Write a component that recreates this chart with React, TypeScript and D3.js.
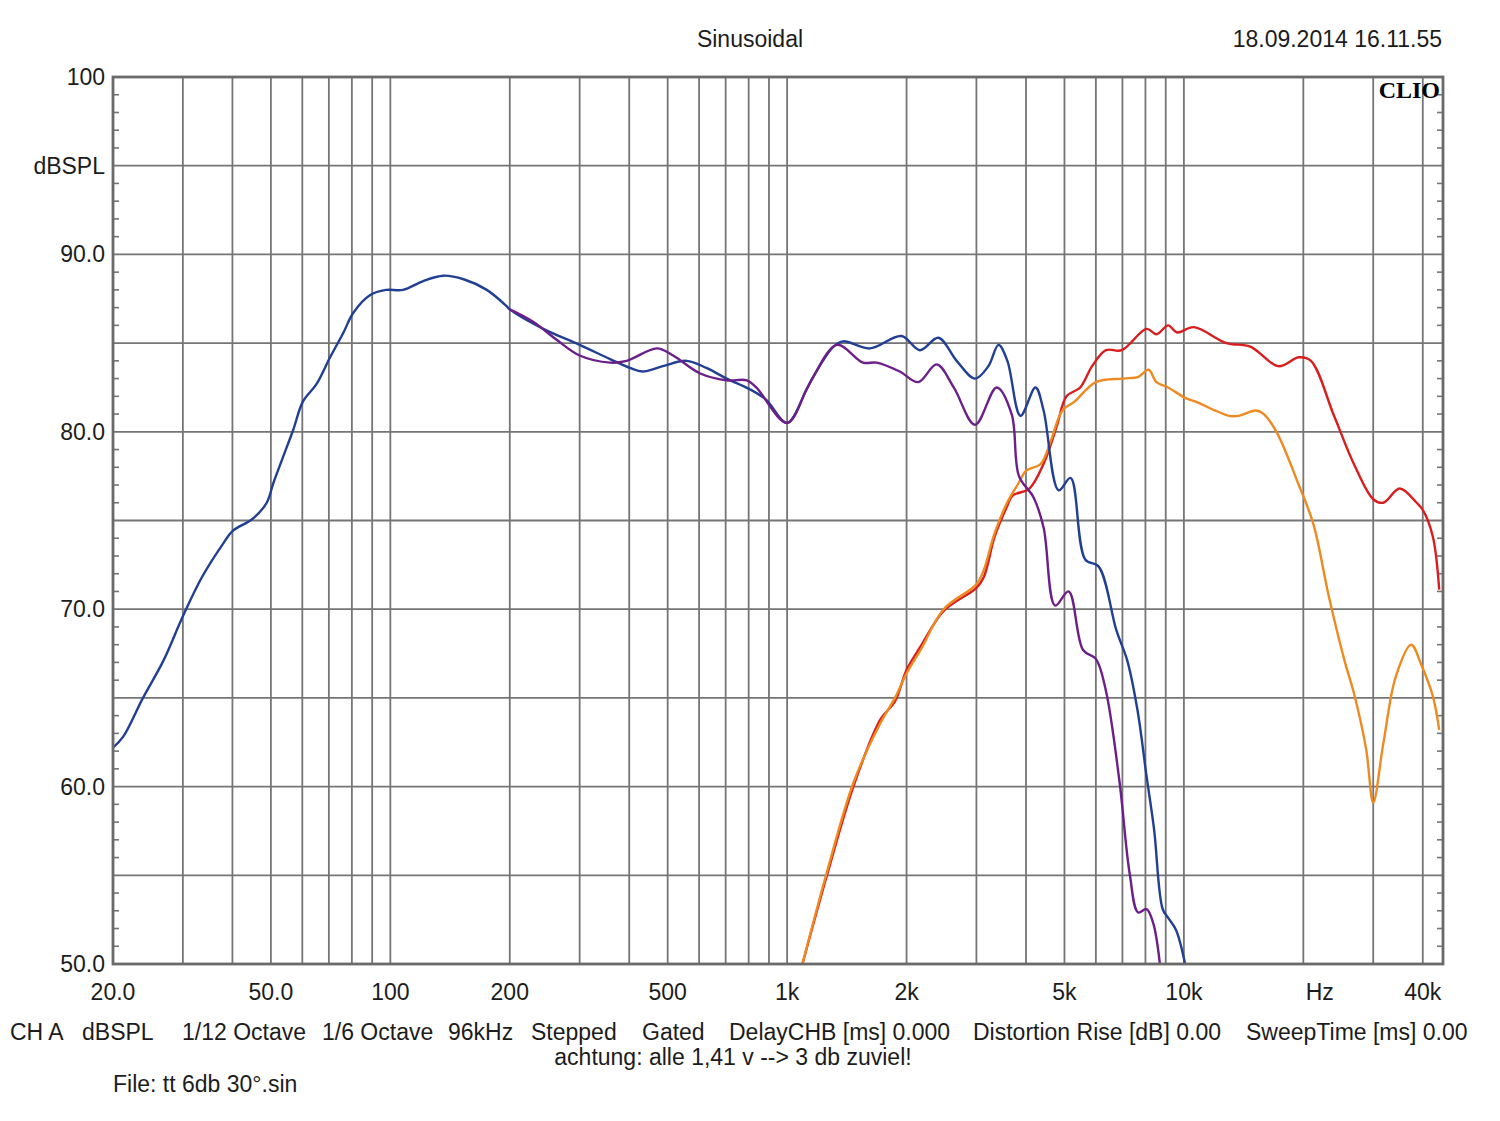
import React from "react";
import * as d3 from "d3";

const W = 1500;
const H = 1121;
const M = { left: 113, top: 77, right: 1443, bottom: 964 };

const FREQ_MIN = 20;
const FREQ_MAX = 44980;
const DB_MIN = 50;
const DB_MAX = 100;

const title = "Sinusoidal";
const dateText = "18.09.2014 16.11.55";
const brand = "CLIO";

const yTickLabels: [number, string][] = [
  [100, "100"],
  [95, "dBSPL"],
  [90, "90.0"],
  [80, "80.0"],
  [70, "70.0"],
  [60, "60.0"],
  [50, "50.0"],
];

const xTickLabels: [number, string][] = [
  [20, "20.0"],
  [50, "50.0"],
  [100, "100"],
  [200, "200"],
  [500, "500"],
  [1000, "1k"],
  [2000, "2k"],
  [5000, "5k"],
  [10000, "10k"],
  [22000, "Hz"],
  [40000, "40k"],
];

const xGridFreqs = [
  20, 30, 40, 50, 60, 70, 80, 90, 100, 200, 300, 400, 500, 600, 700, 800, 900,
  1000, 2000, 3000, 4000, 5000, 6000, 7000, 8000, 9000, 10000, 20000, 30000, 40000,
];

const infoRow: [number, string][] = [
  [10, "CH A"],
  [82, "dBSPL"],
  [182, "1/12 Octave"],
  [322, "1/6 Octave"],
  [448, "96kHz"],
  [531, "Stepped"],
  [642, "Gated"],
  [729, "DelayCHB [ms] 0.000"],
  [973, "Distortion Rise [dB] 0.00"],
  [1246, "SweepTime [ms] 0.00"],
];
const noteText = "achtung: alle 1,41 v --> 3 db zuviel!";
const fileText = "File: tt 6db 30°.sin";

// Blue (woofer, full)
const blueFreq = [
  20, 21.2, 23.8, 26.8, 30, 33.5, 37.9, 40, 45, 48.8, 50.7, 53.7, 56.9, 60.2, 65.2,
  70.5, 76.2, 80.6, 88.8, 97.5, 107.6, 121, 136, 153, 175, 196, 200, 243, 300, 358,
  402, 432, 486, 558, 626, 704, 805, 886, 1000, 1120, 1164, 1308, 1384, 1616, 1942,
  2160, 2406, 2675, 2976, 3216, 3410, 3590, 3874, 4226, 4430, 4836, 5180, 5640,
  6100, 6760, 7200, 7640, 8050, 8410, 8840, 9130, 9560, 10070,
];
const blueDb = [
  62.2, 62.8, 65.0, 67.1, 69.6, 71.8, 73.7, 74.4, 75.1, 76.0, 77.1, 78.6, 80.1, 81.7,
  82.7, 84.2, 85.6, 86.7, 87.7, 88.0, 88.0, 88.5, 88.8, 88.6, 88.0, 87.1, 86.9, 85.8,
  84.9, 84.1, 83.6, 83.4, 83.7, 84.0, 83.6, 83.0, 82.4, 81.8, 80.5, 82.4, 83.1, 84.8,
  85.1, 84.7, 85.4, 84.6, 85.3, 84.0, 83.0, 83.7, 84.9, 84.0, 80.9, 82.5, 81.2, 76.7,
  77.4, 72.8, 72.4, 68.8, 67.1, 64.3, 60.6, 57.6, 53.1, 52.6, 51.9, 50.0,
];

// Purple (woofer, second)
const purpleFreq = [
  200, 229, 262, 300, 358, 394, 470, 516, 602, 704, 792, 836, 1000, 1120, 1164, 1336,
  1554, 1680, 1922, 2140, 2382, 2630, 2976, 3375, 3680, 3840, 4180, 4430, 4738, 5120,
  5570, 6000, 6360, 6880, 7300, 7670, 8050, 8370, 8700,
];
const purpleDb = [
  86.9, 86.2, 85.2, 84.3, 83.9, 84.0, 84.7, 84.3, 83.3, 82.9, 82.9, 82.5, 80.5, 82.4,
  83.1, 84.9, 83.9, 83.9, 83.4, 82.8, 83.8, 82.5, 80.4, 82.5, 81.0, 77.5, 76.3, 74.6,
  70.2, 71.0, 67.7, 67.2, 65.4, 60.3, 55.1, 52.9, 53.1, 52.3, 50.0,
];

// Red (tweeter)
const redFreq = [
  1093, 1264, 1474, 1720, 1870, 2002, 2170, 2480, 3000, 3130, 3336, 3585, 3700, 4080,
  4430, 4780, 5060, 5480, 5870, 6360, 6970, 8050, 8530, 9130, 9610, 10600, 12800,
  14700, 17300, 19500, 20900, 23900, 26800, 30000, 31800, 35000, 38600, 40000, 42400,
  44000,
];
const redDb = [
  50.0, 55.1, 60.1, 63.8, 64.8, 66.6, 67.9, 69.9, 71.2, 71.8, 74.1, 75.8, 76.4, 76.8,
  78.2, 80.3, 82.0, 82.5, 83.7, 84.6, 84.6, 85.8, 85.5, 86.0, 85.6, 85.9, 85.0, 84.8,
  83.7, 84.2, 84.0, 80.9, 78.2, 76.2, 76.0, 76.8, 76.0, 75.6, 74.1, 71.1,
];

// Orange (tweeter, second)
const orangeFreq = [
  1093, 1264, 1474, 1720, 1870, 2002, 2170, 2480, 3000, 3130, 3336, 3585, 3830, 4000,
  4360, 4620, 4940, 5300, 6000, 7030, 7680, 8150, 8530, 9120, 10100, 10700, 13000,
  13700, 15200, 15900, 17200, 19400, 21200, 23200, 25400, 26800, 28800, 30000, 31800,
  34200, 37400, 39600, 42400, 44000,
];
const orangeDb = [
  50.0, 55.3, 60.3, 63.6, 65.0, 66.4, 67.7, 70.0, 71.4, 72.2, 74.3, 76.0, 77.1, 77.8,
  78.2, 79.5, 81.2, 81.7, 82.8, 83.0, 83.1, 83.5, 82.8, 82.5, 81.9, 81.7, 80.9, 80.9,
  81.2, 81.0, 79.9, 77.1, 74.8, 70.7, 67.1, 65.3, 62.1, 59.1, 62.4, 66.2, 68.0, 66.9,
  65.1, 63.2,
];

const series = [
  { name: "red", freq: redFreq, db: redDb, color: "#d81e1e" },
  { name: "orange", freq: orangeFreq, db: orangeDb, color: "#ee8a22" },
  { name: "blue", freq: blueFreq, db: blueDb, color: "#213f93" },
  { name: "purple", freq: purpleFreq, db: purpleDb, color: "#6c1f8a" },
];

const FONT = "'Liberation Sans', Arial, sans-serif";
const FS = 23;
const TEXT = "#1c1c1c";
const GRID = "#757575";

export default function App() {
  const x = d3.scaleLog().domain([FREQ_MIN, FREQ_MAX]).range([M.left, M.right]);
  const y = d3.scaleLinear().domain([DB_MIN, DB_MAX]).range([M.bottom, M.top]);

  const line = d3
    .line<[number, number]>()
    .x((d) => x(d[0]))
    .y((d) => y(d[1]))
    .curve(d3.curveCatmullRom.alpha(0.5));

  const hGrid = d3.range(DB_MIN + 5, DB_MAX, 5);
  const minor = d3.range(DB_MIN + 1, DB_MAX, 1).filter((v) => v % 5 !== 0);

  return (
    <svg
      width={W}
      height={H}
      style={{ position: "absolute", left: 0, top: 0, display: "block", background: "#fff" }}
    >
      <defs>
        <clipPath id="plotClip">
          <rect x={M.left} y={M.top} width={M.right - M.left} height={M.bottom - M.top} />
        </clipPath>
      </defs>
      <rect x={0} y={0} width={W} height={H} fill="#fff" />

      {/* grid */}
      {xGridFreqs.map((f) => (
        <line key={"vx" + f} x1={x(f)} x2={x(f)} y1={M.top} y2={M.bottom} stroke={GRID} strokeWidth={1.8} />
      ))}
      {hGrid.map((v) => (
        <line key={"hy" + v} x1={M.left} x2={M.right} y1={y(v)} y2={y(v)} stroke={GRID} strokeWidth={1.8} />
      ))}
      {minor.map((v) => (
        <g key={"mt" + v}>
          <line x1={M.left} x2={M.left + 6} y1={y(v)} y2={y(v)} stroke={GRID} strokeWidth={1.6} />
          <line x1={M.right - 6} x2={M.right} y1={y(v)} y2={y(v)} stroke={GRID} strokeWidth={1.6} />
        </g>
      ))}

      {/* curves */}
      <g clipPath="url(#plotClip)">
        {series.map((s) => (
          <path
            key={s.name}
            d={line(s.freq.map((f, i) => [f, s.db[i]] as [number, number])) || ""}
            fill="none"
            stroke={s.color}
            strokeWidth={2.4}
            strokeLinejoin="round"
          />
        ))}
      </g>

      {/* frame */}
      <rect
        x={M.left}
        y={M.top}
        width={M.right - M.left}
        height={M.bottom - M.top}
        fill="none"
        stroke="#6a6a6a"
        strokeWidth={2.8}
      />

      {/* header */}
      <text x={750} y={47} textAnchor="middle" fontFamily={FONT} fontSize={FS} fill={TEXT}>
        {title}
      </text>
      <text x={1442} y={47} textAnchor="end" fontFamily={FONT} fontSize={FS} fill={TEXT}>
        {dateText}
      </text>
      <text
        x={1440}
        y={98}
        textAnchor="end"
        fontFamily="'Liberation Serif', 'DejaVu Serif', serif"
        fontWeight="bold"
        fontSize={24}
        fill="#000"
      >
        {brand}
      </text>

      {/* y labels */}
      {yTickLabels.map(([v, t]) => (
        <text
          key={"yl" + v}
          x={105}
          y={y(v) + 8}
          textAnchor="end"
          fontFamily={FONT}
          fontSize={FS}
          fill={TEXT}
        >
          {t}
        </text>
      ))}

      {/* x labels */}
      {xTickLabels.map(([f, t]) => (
        <text
          key={"xl" + f}
          x={x(f)}
          y={1000}
          textAnchor="middle"
          fontFamily={FONT}
          fontSize={FS}
          fill={TEXT}
        >
          {t}
        </text>
      ))}

      {/* info */}
      {infoRow.map(([px, t]) => (
        <text key={"ir" + px} x={px} y={1040} fontFamily={FONT} fontSize={FS} fill={TEXT}>
          {t}
        </text>
      ))}
      <text x={733} y={1065} textAnchor="middle" fontFamily={FONT} fontSize={FS} fill={TEXT}>
        {noteText}
      </text>
      <text x={113} y={1092} fontFamily={FONT} fontSize={FS} fill={TEXT}>
        {fileText}
      </text>
    </svg>
  );
}
